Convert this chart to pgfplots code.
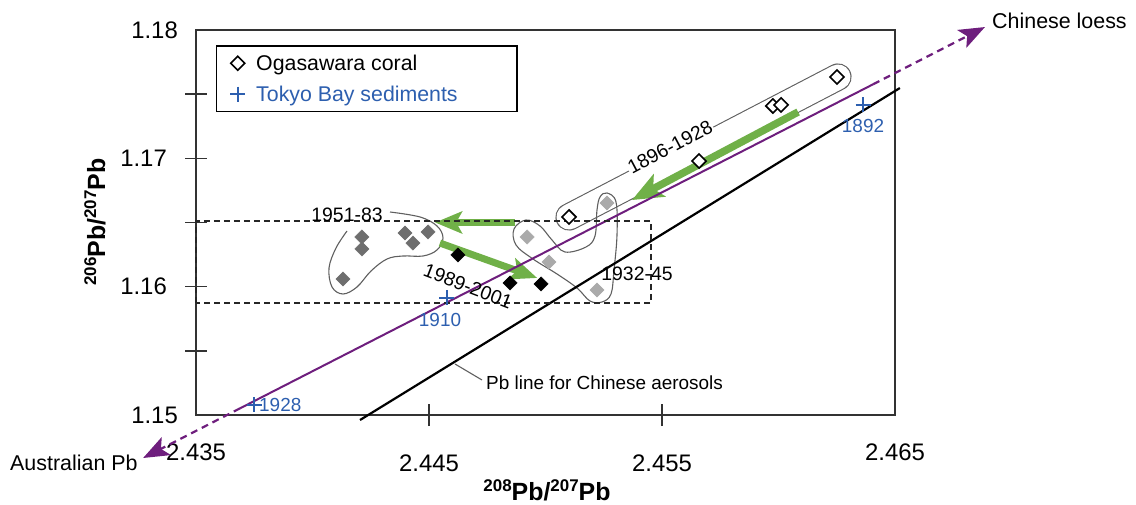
\documentclass[border=0pt]{standalone}
\usepackage{pgfplots}
\pgfplotsset{compat=1.18}
\usepackage{fontspec}
\setmainfont{Liberation Sans}
\usetikzlibrary{arrows.meta}
\definecolor{lpurple}{RGB}{110,30,125}
\definecolor{lgreen}{RGB}{112,176,72}
\definecolor{lblue}{RGB}{45,95,175}
\definecolor{lgrayA}{RGB}{110,110,110}
\definecolor{lgrayB}{RGB}{170,170,170}
\definecolor{outl}{RGB}{95,95,95}
\newcommand{\fs}[1]{\fontsize{#1}{#1}\selectfont}
\newcommand{\pbl}[2]{{\bfseries\fs{25}\raisebox{9bp}{\fs{17}#1}Pb/\raisebox{9bp}{\fs{17}#2}Pb}}
\begin{document}
\begin{tikzpicture}
\useasboundingbox (0,0) rectangle (1136bp,505bp);
% group outlines (annotations)
\draw[line width=27.2bp, line cap=round, outl] (569bp,288bp) -- (838bp,428bp);
\draw[line width=25bp, line cap=round, white] (569bp,288bp) -- (838bp,428bp);
\draw[outl, line width=1.1bp] plot[smooth cycle, tension=0.6] coordinates {
 (607bp,312bp) (616bp,303bp) (617bp,270bp) (614bp,235bp) (611bp,211bp) (602bp,203bp)
 (590bp,204bp) (577bp,217bp) (557bp,231bp) (533bp,246bp) (516bp,260bp) (514bp,276bp)
 (526bp,285bp) (540bp,279bp) (552bp,265bp) (565bp,253bp) (586bp,258bp) (595bp,269bp)
 (597bp,295bp) (600bp,308bp)};
\draw[outl, line width=1.1bp] plot[smooth, tension=0.6] coordinates {
 (390bp,293bp) (420bp,288bp) (437bp,279bp) (443bp,267bp) (437bp,255bp) (423bp,249bp)
 (403bp,249bp) (387bp,246bp) (371bp,234bp) (357bp,218bp) (343bp,211bp) (332bp,218bp)
 (329bp,237bp) (336bp,257bp) (347bp,274bp)};
\draw[outl, line width=1.1bp] (455bp,141bp) -- (482bp,125bp);
\begin{axis}[
  at={(196bp,90bp)}, anchor=south west,
  scale only axis, width=699bp, height=385bp,
  xmin=2.435, xmax=2.465, ymin=1.15, ymax=1.18,
  clip=false,
  axis line style={black!80, line width=1.5bp},
  tick style={black!80, line width=1.5bp},
  tick align=center,
  major tick length=22bp, minor tick length=22bp,
  tick pos=left,
  xtick={2.445,2.455}, xticklabels={2.445,2.455},
  extra x ticks={2.435,2.465}, extra x tick labels={2.435,2.465},
  extra x tick style={major tick length=0pt},
  ytick={1.16,1.17}, yticklabels={1.16,1.17},
  extra y ticks={1.15,1.18}, extra y tick labels={1.15,1.18},
  extra y tick style={major tick length=0pt},
  minor ytick={1.155,1.165,1.175},
  ticklabel style={font=\fs{24}},
  xticklabel style={anchor=center, inner sep=0pt, yshift=-37bp},
  yticklabel style={anchor=east, inner sep=0pt, xshift=-18bp},
  legend style={at={(axis description cs:0.0286,0.961)}, anchor=north west,
    draw=black, line width=1.5bp, inner xsep=13.5bp, inner ysep=7bp,
    row sep=10bp, font=\fs{21.4}, nodes={inner sep=2bp}},
  legend cell align=left,
]
% green trend arrows
\addplot[lgreen, line width=7.5bp, -{Stealth[length=31bp,width=25bp,inset=7bp]}, forget plot]
  coordinates {(2.46084,1.17361) (2.45371,1.16675)};
\addplot[lgreen, line width=7bp, -{Stealth[length=27bp,width=22bp,inset=6bp]}, forget plot]
  coordinates {(2.44869,1.16500) (2.44526,1.16500)};
\addplot[lgreen, line width=7bp, -{Stealth[length=27bp,width=22bp,inset=6bp]}, forget plot]
  coordinates {(2.44547,1.16340) (2.44964,1.16068)};
% mixing line (purple)
\addplot[lpurple, line width=2bp, forget plot]
  coordinates {(2.43689,1.15052) (2.46406,1.17577)};
\addplot[lpurple, line width=2.2bp, dash pattern=on 7bp off 5bp, -{Stealth[length=26bp,width=20bp,inset=6bp]}, forget plot]
  coordinates {(2.43689,1.15052) (2.43273,1.14665)};
\addplot[lpurple, line width=2.2bp, dash pattern=on 7bp off 5bp, -{Stealth[length=26bp,width=20bp,inset=6bp]}, forget plot]
  coordinates {(2.46406,1.17577) (2.46886,1.18023)};
% Chinese aerosol line
\addplot[black, line width=2.2bp, forget plot]
  coordinates {(2.44204,1.14961) (2.46521,1.17548)};
% dashed box
\draw[black!85, line width=1.4bp, dash pattern=on 6bp off 4bp]
  (axis cs:2.435,1.15873) rectangle (axis cs:2.45453,1.16512);
% Ogasawara coral 1896-1928 (open)
\addplot[only marks, mark=square*, mark size=5bp,
  mark options={rotate=45, fill=white, draw=black, line width=1.6bp}]
  coordinates {(2.46251,1.17634) (2.45976,1.17408) (2.46011,1.17416) (2.45659,1.16979) (2.45101,1.16543)};
\addlegendentry{\hspace*{9bp}Ogasawara coral}
% Tokyo Bay sediments
\addplot[only marks, mark=+, mark size=7.5bp, lblue, mark options={line width=1.8bp}]
  coordinates {(2.46363,1.17416) (2.44577,1.15912) (2.43749,1.15078)};
\addlegendentry{\hspace*{9bp}\textcolor{lblue}{Tokyo Bay sediments}\hspace*{44bp}}
% 1932-45
\addplot[only marks, mark=square*, mark size=5bp,
  mark options={rotate=45, fill=lgrayB, draw=lgrayB, line width=0.5bp}, forget plot]
  coordinates {(2.45264,1.16652) (2.44921,1.16387) (2.45015,1.16192) (2.45221,1.15974)};
% 1951-83
\addplot[only marks, mark=square*, mark size=5bp,
  mark options={rotate=45, fill=lgrayA, draw=lgrayA, line width=0.5bp}, forget plot]
  coordinates {(2.44212,1.16387) (2.44212,1.16294) (2.44397,1.16418) (2.44431,1.16340) (2.44496,1.16426) (2.44131,1.16060)};
% 1989-2001
\addplot[only marks, mark=square*, mark size=5bp,
  mark options={rotate=45, fill=black, draw=black, line width=0.5bp}, forget plot]
  coordinates {(2.44624,1.16247) (2.44848,1.16029) (2.44981,1.16021)};
\end{axis}
% labels
\node[font=\fs{19.5}, fill=white, inner sep=1bp, rotate=28] at (670bp,358bp) {1896-1928};
\node[font=\fs{19.5}] at (347bp,290bp) {1951-83};
\node[font=\fs{19.5}, rotate=-21] at (468bp,219bp) {1989-2001};
\node[font=\fs{19.5}] at (637bp,231bp) {1932-45};
\node[font=\fs{19}, anchor=west, inner sep=0pt] at (486bp,122bp) {Pb line for Chinese aerosols};
\node[font=\fs{21.5}, anchor=west, inner sep=0pt] at (992bp,484bp) {Chinese loess};
\node[font=\fs{21.5}, anchor=west, inner sep=0pt] at (10bp,42bp) {Australian Pb};
\node[font=\fs{19}, text=lblue] at (863bp,379bp) {1892};
\node[font=\fs{19}, text=lblue] at (440bp,185bp) {1910};
\node[font=\fs{19}, text=lblue, anchor=west, inner sep=0pt] at (259bp,100bp) {1928};
\node[rotate=90] at (95bp,283bp) {\pbl{206}{207}};
\node at (547bp,15bp) {\pbl{208}{207}};
\end{tikzpicture}
\end{document}
